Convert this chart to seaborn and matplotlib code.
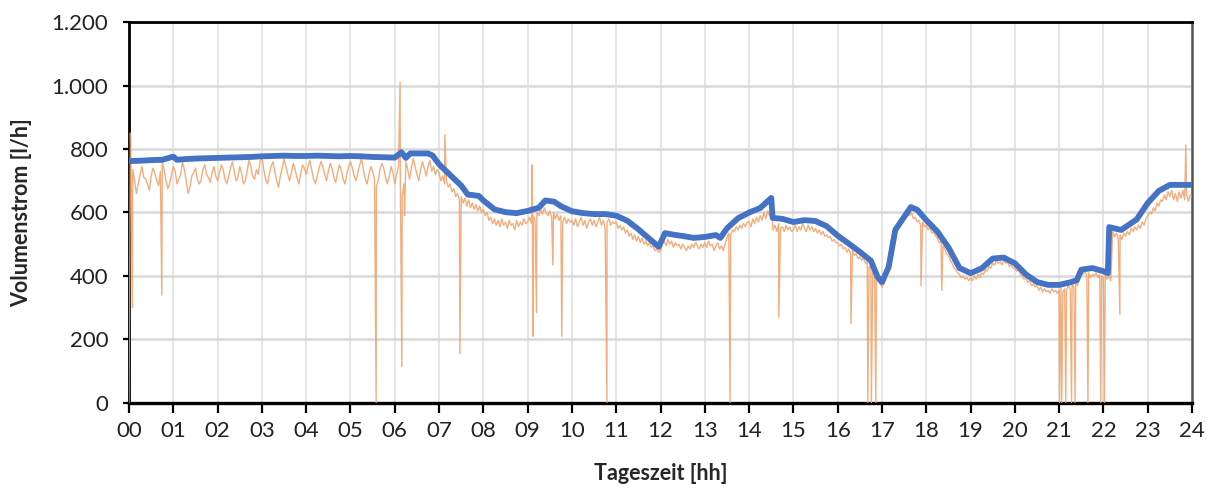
import numpy as np
import pandas as pd
import matplotlib
matplotlib.use("Agg")
import matplotlib.pyplot as plt
from matplotlib.ticker import FuncFormatter, MultipleLocator
import seaborn as sns

# Smoothed flow (blue), hours of day and l/h
blue_hours = [0.00, 0.25, 0.50, 0.75, 1.00, 1.08, 1.25, 1.50, 1.75, 2.00, 2.25, 2.50, 2.75,
              3.00, 3.25, 3.50, 3.75, 4.00, 4.25, 4.50, 4.75, 5.00, 5.25, 5.50, 5.75,
              6.00, 6.15, 6.25, 6.35, 6.50, 6.75, 6.85, 7.00, 7.25, 7.50, 7.65, 7.75, 7.90,
              8.00, 8.25, 8.50, 8.75, 9.00, 9.25, 9.40, 9.60, 9.75, 10.00, 10.25, 10.50,
              10.75, 11.00, 11.25, 11.50, 11.75, 11.96, 12.10, 12.30, 12.50, 12.75, 13.00,
              13.25, 13.35, 13.50, 13.75, 14.00, 14.25, 14.50, 14.53, 14.75, 15.00, 15.25,
              15.50, 15.75, 16.00, 16.25, 16.50, 16.75, 16.90, 17.00, 17.15, 17.30, 17.50,
              17.65, 17.80, 18.00, 18.25, 18.50, 18.75, 19.00, 19.25, 19.50, 19.75, 20.00,
              20.25, 20.50, 20.75, 21.00, 21.25, 21.40, 21.50, 21.75, 22.00, 22.10, 22.13,
              22.40, 22.75, 23.00, 23.25, 23.50, 23.75, 24.00]
blue_flow = [762, 763, 765, 766, 776, 766, 768, 770, 771, 772, 773, 774, 775,
             777, 778, 779, 778, 778, 779, 778, 777, 778, 777, 775, 774,
             773, 790, 772, 786, 786, 786, 780, 752, 718, 685, 656, 655, 652,
             638, 610, 601, 598, 605, 615, 638, 634, 620, 604, 598, 595,
             595, 590, 574, 547, 517, 492, 535, 530, 526, 520, 523,
             529, 520, 550, 582, 600, 614, 646, 583, 580, 570, 576,
             573, 557, 527, 502, 476, 448, 397, 381, 428, 545, 586,
             617, 608, 576, 540, 490, 425, 409, 424, 455, 458, 440,
             405, 381, 372, 372, 380, 387, 420, 425, 415, 409, 554,
             545, 578, 630, 668, 687, 687, 687]

# Raw flow (orange), one reading every 2.5 minutes, hour by hour
orange_flow = [
    0, 790, 735, 700, 660, 690, 720, 745, 710, 705, 690, 670, 715, 740, 725, 700, 685, 730, 760, 735, 700, 675, 690, 720,  # 00
    745, 730, 690, 705, 720, 760, 735, 700, 660, 680, 715, 725, 740, 705, 690, 700, 735, 750, 720, 710, 695, 725, 745, 715,  # 01
    700, 725, 750, 735, 705, 690, 715, 740, 760, 730, 700, 710, 745, 725, 690, 700, 730, 765, 745, 715, 705, 735, 720, 760,  # 02
    780, 735, 705, 690, 720, 745, 760, 730, 700, 680, 715, 740, 770, 745, 720, 700, 725, 755, 735, 710, 690, 720, 750, 740,  # 03
    720, 745, 765, 735, 705, 690, 715, 740, 760, 745, 720, 700, 730, 755, 740, 710, 695, 725, 750, 735, 705, 690, 720, 745,  # 04
    760, 740, 715, 700, 725, 750, 770, 735, 705, 690, 720, 745, 730, 705, 680, 700, 735, 755, 740, 710, 690, 715, 745, 725,  # 05
    690, 720, 745, 700, 650, 690, 760, 735, 705, 740, 770, 745, 720, 700, 735, 760, 740, 715, 745, 765, 730, 745, 720, 735,  # 06
    725, 700, 715, 690, 700, 680, 690, 665, 675, 650, 660, 640, 650, 630, 645, 620, 640, 615, 630, 610, 625, 605, 620, 600,  # 07
    610, 590, 600, 575, 585, 565, 580, 560, 575, 555, 580, 560, 570, 550, 575, 560, 565, 545, 575, 555, 570, 560, 580, 565,  # 08
    570, 585, 565, 590, 575, 600, 590, 610, 595, 615, 600, 590, 605, 585, 600, 580, 595, 575, 590, 570, 585, 565, 580, 570,  # 09
    575, 560, 580, 555, 570, 585, 560, 575, 550, 570, 580, 560, 575, 555, 570, 585, 560, 575, 550, 570, 580, 560, 570, 565,  # 10
    570, 550, 560, 545, 555, 535, 545, 525, 535, 515, 530, 510, 525, 505, 520, 500, 510, 495, 505, 490, 495, 480, 485, 475,  # 11
    480, 500, 510, 495, 515, 500, 510, 490, 505, 495, 500, 485, 500, 490, 480, 495, 485, 500, 490, 505, 495, 485, 500, 490,  # 12
    505, 490, 510, 495, 500, 480, 495, 505, 485, 495, 480, 500, 520, 535, 530, 545, 540, 555, 545, 560, 550, 565, 555, 570,  # 13
    570, 555, 580, 565, 585, 570, 590, 575, 600, 580, 605, 590, 625, 545, 560, 540, 565, 550, 555, 540, 560, 545, 555, 540,  # 14
    545, 560, 540, 555, 545, 565, 550, 540, 560, 545, 555, 540, 550, 535, 545, 530, 540, 525, 530, 520, 525, 510, 515, 505,  # 15
    505, 495, 500, 485, 490, 475, 485, 470, 480, 465, 470, 455, 460, 450, 455, 440, 445, 430, 425, 410, 405, 395, 385, 375,  # 16
    365, 375, 390, 420, 470, 510, 535, 545, 560, 570, 575, 590, 585, 600, 595, 590, 600, 580, 585, 570, 575, 560, 570, 555,  # 17
    560, 545, 555, 535, 540, 525, 520, 505, 510, 495, 485, 470, 465, 450, 440, 425, 420, 410, 405, 395, 400, 390, 395, 385,  # 18
    395, 385, 400, 390, 405, 395, 410, 405, 420, 415, 430, 425, 440, 435, 450, 440, 445, 435, 450, 440, 445, 430, 435, 425,  # 19
    425, 415, 420, 405, 400, 390, 395, 380, 385, 370, 375, 365, 370, 355, 365, 350, 360, 350, 355, 345, 360, 350, 355, 345,  # 20
    355, 365, 350, 360, 355, 370, 360, 375, 365, 380, 370, 400, 410, 405, 415, 400, 410, 395, 405, 400, 410, 395, 405, 400,  # 21
    395, 405, 390, 400, 385, 540, 525, 535, 520, 530, 515, 535, 525, 540, 530, 550, 540, 555, 545, 560, 550, 570, 560, 580,  # 22
    590, 600, 595, 615, 605, 630, 620, 640, 635, 655, 640, 665, 650, 670, 640, 660, 635, 665, 645, 670, 640, 660, 635, 655,  # 23
    650,                                                                                                                      # 24
]

# Isolated outliers in the raw signal
spike_hours = [0.03, 0.075, 0.74, 5.58, 6.12, 6.16, 6.22, 7.13, 7.47, 9.10, 9.12, 9.20,
               9.57, 9.77, 10.79, 13.57, 14.67, 16.30, 16.68, 16.76, 16.86, 17.88, 18.35,
               21.01, 21.06, 21.15, 21.28, 21.36, 21.65, 21.94, 22.02, 22.37, 23.86]
spike_flow = [850, 300, 340, 0, 1010, 115, 590, 845, 155, 750, 210, 285,
              435, 210, 0, 0, 270, 250, 0, 0, 0, 370, 355,
              0, 0, 0, 0, 0, 0, 0, 0, 280, 812]

x_labels = [f"{h:02d}" for h in range(25)]

orange_hours = np.arange(len(orange_flow)) / 24.0
raw = pd.DataFrame({
    "hour": np.concatenate([orange_hours, spike_hours]),
    "flow": np.concatenate([orange_flow, spike_flow]),
}).sort_values("hour")
smooth = pd.DataFrame({"hour": blue_hours, "flow": blue_flow})

sns.set_theme(style="white")
plt.rcParams["font.family"] = ["Lato", "DejaVu Sans"]

fig = plt.figure(figsize=(12.07, 4.88), dpi=100)
ax = fig.add_axes([0.1069, 0.1742, 0.8807, 0.7807])

sns.lineplot(data=raw, x="hour", y="flow", ax=ax, color="#F0A066", lw=1.0,
             alpha=0.85, estimator=None, sort=False, zorder=3)
sns.lineplot(data=smooth, x="hour", y="flow", ax=ax, color="#4472C4", lw=4.2,
             estimator=None, sort=False, zorder=4)

ax.set_xlim(0, 24)
ax.set_ylim(0, 1200)
ax.set_xticks(range(25))
ax.set_xticklabels(x_labels)
ax.yaxis.set_major_locator(MultipleLocator(200))
ax.yaxis.set_major_formatter(FuncFormatter(lambda v, _: f"{v:,.0f}".replace(",", ".")))

ax.grid(True, axis="y", color="#d9d9d9", lw=1.8, zorder=0)
ax.grid(True, axis="x", color="#e0e0e0", lw=1.2, zorder=0)
ax.set_axisbelow(True)

for side in ("left", "bottom", "top"):
    ax.spines[side].set_color("black")
    ax.spines[side].set_linewidth(2.0)
ax.spines["bottom"].set_linewidth(2.4)
ax.spines["right"].set_color("#555555")
ax.spines["right"].set_linewidth(1.8)

ax.tick_params(axis="x", which="major", direction="out", length=7, width=1.6,
               color="black", labelsize=16, pad=6, bottom=True)
ax.tick_params(axis="y", which="major", direction="out", length=4, width=1.6,
               color="black", labelsize=16, pad=11, left=True)
for lab in ax.get_xticklabels() + ax.get_yticklabels():
    lab.set_color("#222222")

ax.set_xlabel("Tageszeit [hh]", fontsize=15.5, fontweight="bold", labelpad=16)
ax.set_ylabel("Volumenstrom [l/h]", fontsize=15.5, fontweight="bold", labelpad=14)

fig.savefig("out.png", dpi=100)
